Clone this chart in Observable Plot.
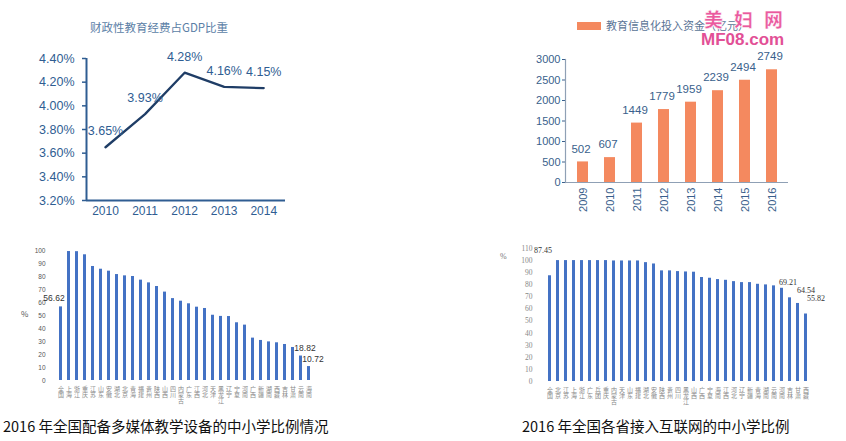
<!DOCTYPE html>
<html>
<head>
<meta charset="utf-8">
<script src="https://cdn.jsdelivr.net/npm/d3@7"></script>
<script src="https://cdn.jsdelivr.net/npm/@observablehq/plot@0.6"></script>
<style>
  html, body { margin: 0; padding: 0; background: #fff; }
  #root { position: relative; width: 846px; height: 441px; overflow: hidden; background: #fff; font-family: "Noto Sans CJK SC", sans-serif; }
  .abs { position: absolute; }
  .abs svg { overflow: visible; }
</style>
</head>
<body>
<div id="root">
  <div class="abs" id="c1" style="left:0;top:0"></div>
  <div class="abs" id="c2" style="left:500px;top:0"></div>
  <div class="abs" id="c3" style="left:0;top:235px"></div>
  <div class="abs" id="c4" style="left:490px;top:235px"></div>

  <div class="abs" style="left:90px;top:19px;font-size:11.5px;color:#5b7ea6;white-space:nowrap;">财政性教育经费占GDP比重</div>

  <div class="abs" style="left:577px;top:22px;width:24px;height:8px;background:#f4895f;"></div>
  <div class="abs" style="left:606px;top:17px;font-size:11px;color:#5a7496;white-space:nowrap;">教育信息化投入资金（亿元）</div>
  <div class="abs" style="left:704px;top:5px;font-size:19px;font-weight:900;color:#ea5a9e;letter-spacing:11px;white-space:nowrap;-webkit-text-stroke:0.5px #fff;text-shadow:0 0 2px #fff;">美妇网</div>
  <div class="abs" style="left:701px;top:30px;font-family:'Liberation Sans',Arial,sans-serif;font-size:17px;font-weight:bold;color:#e25096;white-space:nowrap;text-shadow:0 0 2px #fff;">MF08.com</div>

  <div class="abs" style="left:21px;top:308px;font-size:8px;color:#555;">%</div>
  <div class="abs" style="left:500px;top:252px;font-size:8px;color:#777;font-family:'Liberation Serif',serif;">%</div>

  <div class="abs" style="left:3px;top:415px;font-size:14.5px;color:#111;white-space:nowrap;">2016 年全国配备多媒体教学设备的中小学比例情况</div>
  <div class="abs" style="left:522px;top:415px;font-size:14.5px;color:#111;white-space:nowrap;">2016 年全国各省接入互联网的中小学比例</div>
</div>
<script>
// ---------- Chart 1: 财政性教育经费占GDP比重 ----------
const years1 = [2010, 2011, 2012, 2013, 2014];
const ratio1 = [3.65, 3.93, 4.28, 4.16, 4.15];
const yTicks1 = [3.2, 3.4, 3.6, 3.8, 4.0, 4.2, 4.4];

// ---------- Chart 2: 教育信息化投入资金（亿元） ----------
const years2 = ["2009", "2010", "2011", "2012", "2013", "2014", "2015", "2016"];
const invest2 = [502, 607, 1449, 1779, 1959, 2239, 2494, 2749];
const yTicks2 = [0, 500, 1000, 1500, 2000, 2500, 3000];

// ---------- Chart 3: 配备多媒体教学设备的中小学比例 ----------
const prov3 = ["全国","上海","浙江","重庆","江苏","山东","安徽","湖北","北京","青海","福建","贵州","陕西","山西","四川","内蒙古","广东","江西","河北","天津","黑龙江","辽宁","宁夏","河南","广西","新疆","湖南","西藏","吉林","甘肃","云南","海南"];
const media3 = [56.62, 99.2, 99.1, 96.7, 87.7, 85.6, 84.1, 81.5, 80.5, 80.0, 77.2, 75.1, 72.3, 68.0, 63.0, 61.0, 59.0, 56.4, 55.4, 50.2, 49.3, 49.2, 44.4, 42.6, 32.6, 30.8, 29.7, 29.0, 27.7, 25.4, 18.82, 10.72];
const yTicks3 = [0, 10, 20, 30, 40, 50, 60, 70, 80, 90, 100];
const labeled3 = ["全国", "云南", "海南"];

// ---------- Chart 4: 接入互联网的中小学比例 ----------
const prov4 = ["全国","北京","江苏","上海","浙江","广东","兵团","重庆","内蒙古","天津","山东","福建","湖北","安徽","陕西","贵州","四川","黑龙江","山西","广西","宁夏","海南","江西","河北","辽宁","新疆","青海","湖南","云南","河南","吉林","甘肃","西藏"];
const net4 = [87.45, 100, 100, 100, 100, 100, 100, 100, 99.7, 99.7, 99.7, 99.7, 98.3, 97.2, 91.5, 91.5, 90.9, 90.6, 90.4, 86.0, 85.4, 84.3, 83.7, 82.6, 81.8, 81.8, 80.4, 79.9, 79.1, 77.1, 69.21, 64.54, 55.82];
const yTicks4 = [0, 10, 20, 30, 40, 50, 60, 70, 80, 90, 100, 110];
const labeled4 = ["全国", "吉林", "甘肃", "西藏"];

// ---------- build tables ----------
const t1 = years1.map((y, i) => ({year: y, v: ratio1[i]}));
const t2 = years2.map((y, i) => ({year: y, v: invest2[i]}));
const t3 = prov3.map((p, i) => ({p, v: media3[i]}));
const t4 = prov4.map((p, i) => ({p, v: net4[i]}));

const blue1 = "#2f5d92";
const x1Domain = [2009.52, 2014.55];

const chart1 = Plot.plot({
  width: 300, height: 230,
  marginLeft: 86, marginRight: 15, marginTop: 58, marginBottom: 30,
  x: {domain: x1Domain},
  y: {domain: [3.2, 4.4]},
  style: {fontFamily: "'Liberation Sans', Arial, sans-serif", background: "transparent"},
  marks: [
    Plot.axisY({ticks: yTicks1, tickFormat: d => d.toFixed(2) + "%", tickSize: 4, tickPadding: 8, color: blue1, fontSize: 12.5, strokeWidth: 1.5, label: null}),
    Plot.axisX({ticks: years1, tickFormat: d => String(d), tickSize: 0, tickPadding: 6, color: blue1, fontSize: 12, label: null}),
    Plot.ruleY([3.2], {stroke: blue1, strokeWidth: 2}),
    Plot.ruleX([x1Domain[0]], {stroke: blue1, strokeWidth: 2}),
    Plot.line(t1, {x: "year", y: "v", stroke: "#1f3d66", strokeWidth: 2.3}),
    Plot.text(t1, {x: "year", y: "v", text: d => d.v.toFixed(2) + "%", dy: -16, fill: blue1, fontSize: 12.5})
  ]
});
document.getElementById("c1").appendChild(chart1);

const chart2 = Plot.plot({
  width: 346, height: 230,
  marginLeft: 65, marginRight: 58, marginTop: 59, marginBottom: 48,
  x: {type: "band", domain: years2, paddingInner: 0.6, paddingOuter: 0.3},
  y: {domain: [0, 3000]},
  style: {fontFamily: "'Liberation Sans', Arial, sans-serif", background: "transparent"},
  marks: [
    Plot.barY(t2, {x: "year", y: "v", fill: "#f4895f"}),
    Plot.axisY({ticks: yTicks2, tickFormat: d => String(d), tickSize: 3, tickPadding: 2, color: "#3a5f8c", fontSize: 11, label: null}),
    Plot.axisX({tickRotate: -90, tickSize: 0, tickPadding: 5, color: "#3a5f8c", fontSize: 11, label: null}),
    Plot.ruleY([0], {stroke: "#8fa0b5", strokeWidth: 1.2}),
    Plot.frame({anchor: "left", stroke: "#8fa0b5", strokeWidth: 1.2}),
    Plot.text(t2, {x: "year", y: "v", text: d => String(d.v), dy: -13, dx: -2, fill: "#3a5f8c", fontSize: 11.5})
  ]
});
document.getElementById("c2").appendChild(chart2);

const chart3 = Plot.plot({
  width: 345, height: 175,
  marginLeft: 51, marginRight: 27, marginTop: 15, marginBottom: 30,
  x: {type: "band", domain: prov3, paddingInner: 0.62, paddingOuter: 0.3},
  y: {domain: [0, 100]},
  style: {fontFamily: "'Noto Sans CJK SC', sans-serif", background: "transparent"},
  marks: [
    Plot.barY(t3, {x: "p", y: "v", fill: "#4472c4"}),
    Plot.axisY({ticks: yTicks3, tickSize: 0, tickPadding: 6, fontSize: 6.5, color: "#555", label: null, fontFamily: "'Liberation Sans', Arial, sans-serif"}),
    Plot.axisX({tickSize: 0, tickPadding: 6, fontSize: 6, lineHeight: 1, tickFormat: d => [...d].join("\n"), color: "#888", label: null}),
    Plot.text(t3.filter(d => d.p === labeled3[0]), {x: "p", y: "v", text: d => d.v.toFixed(2), dx: -7, dy: -9, fontSize: 8.5, fill: "#333", fontFamily: "'Liberation Sans', Arial, sans-serif"}),
    Plot.text(t3.filter(d => d.p === labeled3[1]), {x: "p", y: "v", text: d => d.v.toFixed(2), dx: 4, dy: -8, fontSize: 8.5, fill: "#333", fontFamily: "'Liberation Sans', Arial, sans-serif"}),
    Plot.text(t3.filter(d => d.p === labeled3[2]), {x: "p", y: "v", text: d => d.v.toFixed(2), dx: 4, dy: -7, fontSize: 8.5, fill: "#333", fontFamily: "'Liberation Sans', Arial, sans-serif"})
  ]
});
document.getElementById("c3").appendChild(chart3);

const serif = "'Liberation Serif', 'DejaVu Serif', serif";
const chart4 = Plot.plot({
  width: 356, height: 175,
  marginLeft: 50, marginRight: 31, marginTop: 13, marginBottom: 29,
  x: {type: "band", domain: prov4, paddingInner: 0.62, paddingOuter: 0.3},
  y: {domain: [0, 110]},
  style: {fontFamily: "'Noto Sans CJK SC', sans-serif", background: "transparent"},
  marks: [
    Plot.barY(t4, {x: "p", y: "v", fill: "#4472c4"}),
    Plot.axisY({ticks: yTicks4, tickSize: 0, tickPadding: 8, fontSize: 7.5, color: "#888", label: null, fontFamily: serif}),
    Plot.axisX({tickSize: 0, tickPadding: 6, fontSize: 6, lineHeight: 1, tickFormat: d => [...d].join("\n"), color: "#888", label: null}),
    Plot.text(t4.filter(d => d.p === labeled4[0]), {x: "p", y: "v", text: d => d.v.toFixed(2), dx: -7, dy: -25, fontSize: 8, fill: "#333", fontFamily: serif}),
    Plot.text(t4.filter(d => d.p === labeled4[1]), {x: "p", y: "v", text: d => d.v.toFixed(2), dx: -2, dy: -15, fontSize: 8, fill: "#333", fontFamily: serif}),
    Plot.text(t4.filter(d => d.p === labeled4[2]), {x: "p", y: "v", text: d => d.v.toFixed(2), dx: 8, dy: -13, fontSize: 8, fill: "#333", fontFamily: serif}),
    Plot.text(t4.filter(d => d.p === labeled4[3]), {x: "p", y: "v", text: d => d.v.toFixed(2), dx: 10, dy: -16, fontSize: 8, fill: "#333", fontFamily: serif})
  ]
});
document.getElementById("c4").appendChild(chart4);
</script>
</body>
</html>
